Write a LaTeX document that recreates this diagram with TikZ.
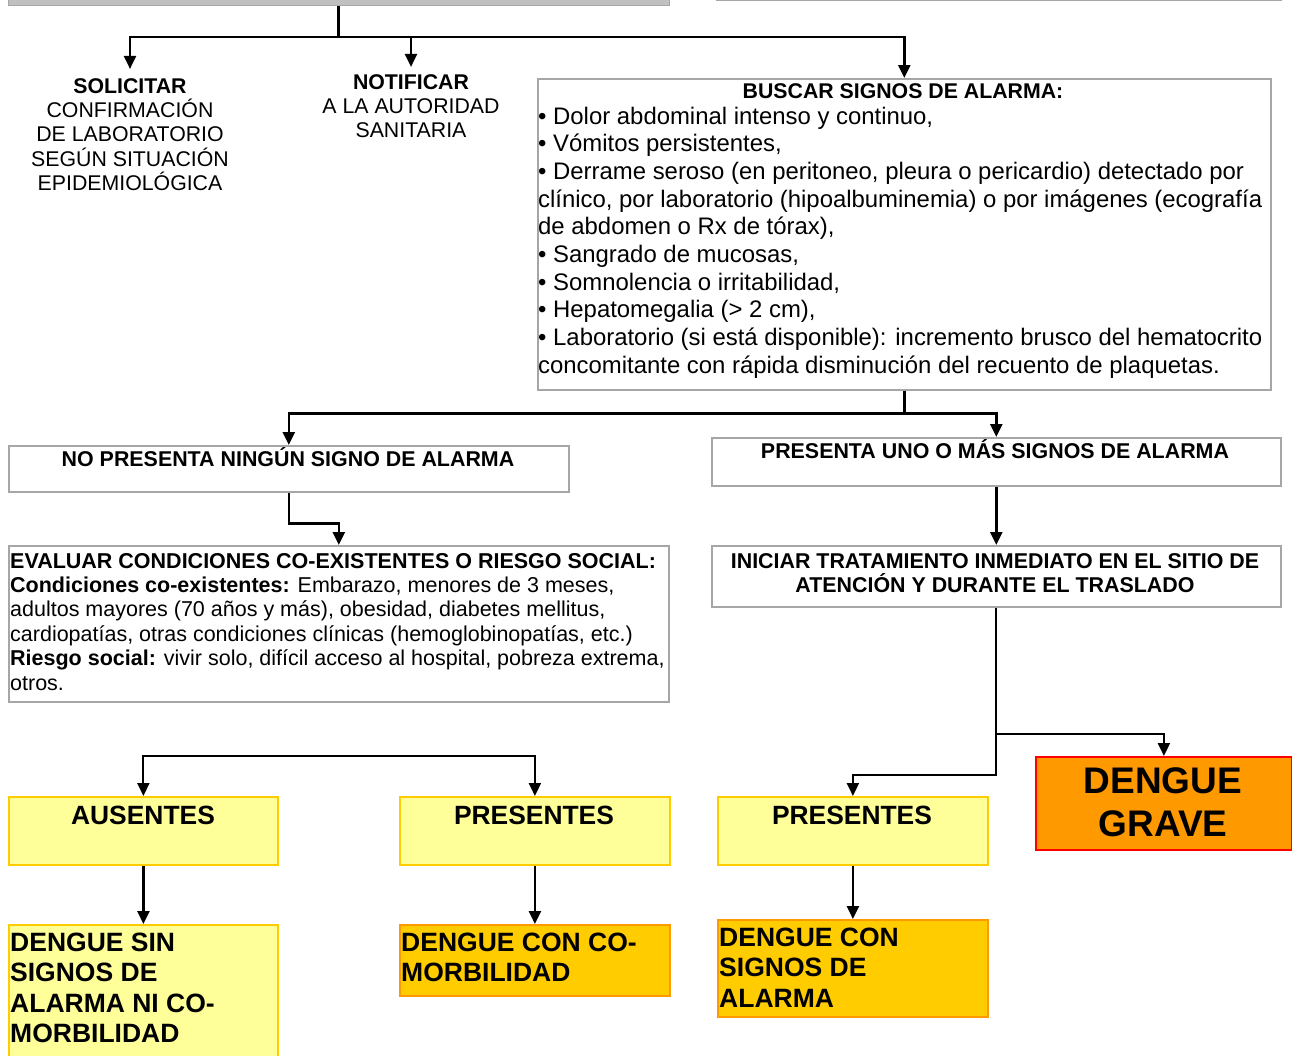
\documentclass[tikz,border=0pt]{standalone}
\usepackage{fontspec}
\setmainfont{Liberation Sans}
\usetikzlibrary{arrows.meta}
\definecolor{boxgray}{HTML}{A6A6A6}
\definecolor{barfill}{HTML}{C0C0C0}
\definecolor{yfill}{HTML}{FFFF99}
\definecolor{yline}{HTML}{FFCC00}
\definecolor{ofill}{HTML}{FFCC00}
\definecolor{oline}{HTML}{FF9900}
\definecolor{gfill}{HTML}{FF9900}
\definecolor{gline}{HTML}{FF0000}
\newcommand{\fs}[2]{\fontsize{#1}{#2}\selectfont}
\begin{document}
\begin{tikzpicture}[x=1pt,y=-1pt,
  gbox/.style={draw=boxgray, line width=1.6pt, fill=white, inner sep=0pt, anchor=north west},
  ybox/.style={draw=yline, line width=1.8pt, fill=yfill, inner sep=0pt, anchor=north west},
  obox/.style={draw=oline, line width=1.8pt, fill=ofill, inner sep=0pt, anchor=north west},
  rbox/.style={draw=gline, line width=1.8pt, fill=gfill, inner sep=0pt, anchor=north west},
  txt/.style={inner sep=0pt, anchor=base, align=center},
  ltxt/.style={inner sep=0pt, anchor=base west, align=left},
  conn/.style={line width=2.4pt},
  arr/.style={line width=2.4pt, -{Triangle[length=13pt,width=12pt]}},
  tarr/.style={line width=2pt, -{Triangle[length=13pt,width=12pt]}}]
\useasboundingbox (0,0) rectangle (1292,1055);
% partial top boxes
\node[fill=barfill, draw=boxgray, line width=1pt, minimum width=661, minimum height=20, inner sep=0pt, anchor=south west] (topL) at (8,6) {};
\node[draw=boxgray, line width=1.4pt, minimum width=565, minimum height=20, inner sep=0pt, anchor=south west] (topR) at (716,1) {};
% boxes
\node[gbox, minimum width=733, minimum height=311] (buscar) at (537,78) {};
\node[gbox, minimum width=560, minimum height=46] (nopres) at (8,445) {};
\node[gbox, minimum width=569, minimum height=48] (pres) at (711,437) {};
\node[gbox, minimum width=660, minimum height=156] (evaluar) at (8,545) {};
\node[gbox, minimum width=569, minimum height=61] (iniciar) at (711,545) {};
\node[ybox, minimum width=269, minimum height=68] (ausentes) at (8,796) {};
\node[ybox, minimum width=270, minimum height=68] (presA) at (399,796) {};
\node[ybox, minimum width=270, minimum height=68] (presB) at (717,796) {};
\node[ybox, minimum width=269, minimum height=150] (sinsig) at (8,924) {};
\node[obox, minimum width=270, minimum height=71] (concomorb) at (399,924) {};
\node[obox, minimum width=270, minimum height=97] (consig) at (717,919) {};
\node[rbox, minimum width=256, minimum height=93] (grave) at (1035,756) {};
% texts (base anchor = baseline of the last line)
\node[txt, font=\fs{21.3}{24.4}] (solicitar) at (130,190.6) {\bfseries SOLICITAR\\CONFIRMACIÓN\\DE LABORATORIO\\SEGÚN SITUACIÓN\\EPIDEMIOLÓGICA};
\node[txt, font=\fs{21.3}{24.4}] (notificar) at (411,137.8) {\bfseries NOTIFICAR\\A LA AUTORIDAD\\SANITARIA};
\node[txt, font=\bfseries\fs{21.3}{24.4}] (buscarT) at (903,98) {BUSCAR SIGNOS DE ALARMA:};
\node[ltxt, font=\fs{23.9}{27.7}] (buscarB) at (538,373.3) {• Dolor abdominal intenso y continuo,\\
• Vómitos persistentes,\\
• Derrame seroso (en peritoneo, pleura o pericardio) detectado por\\
clínico, por laboratorio (hipoalbuminemia) o por imágenes (ecografía\\
de abdomen o Rx de tórax),\\
• Sangrado de mucosas,\\
• Somnolencia o irritabilidad,\\
• Hepatomegalia (> 2 cm),\\
• Laboratorio (si está disponible): incremento brusco del hematocrito\\
concomitante con rápida disminución del recuento de plaquetas.};
\node[txt, font=\bfseries\fs{21.4}{24.4}] (nopresT) at (288,466) {NO PRESENTA NINGÚN SIGNO DE ALARMA};
\node[txt, font=\bfseries\fs{21.4}{24.4}] (presT) at (995,458) {PRESENTA UNO O MÁS SIGNOS DE ALARMA};
\node[ltxt, font=\fs{21.5}{24.4}] (evaluarT) at (10,690) {\textbf{EVALUAR CONDICIONES CO-EXISTENTES O RIESGO SOCIAL:}\\
\textbf{Condiciones co-existentes:} Embarazo, menores de 3 meses,\\
adultos mayores (70 años y más), obesidad, diabetes mellitus,\\
cardiopatías, otras condiciones clínicas (hemoglobinopatías, etc.)\\
\textbf{Riesgo social:} vivir solo, difícil acceso al hospital, pobreza extrema,\\
otros.};
\node[txt, font=\bfseries\fs{21.4}{24.4}] (iniciarT) at (995,592.4) {INICIAR TRATAMIENTO INMEDIATO EN EL SITIO DE\\ATENCIÓN Y DURANTE EL TRASLADO};
\node[txt, font=\bfseries\fs{26.4}{30.5}] (ausentesT) at (143,824) {AUSENTES};
\node[txt, font=\bfseries\fs{26.4}{30.5}] (presAT) at (534,824) {PRESENTES};
\node[txt, font=\bfseries\fs{26.4}{30.5}] (presBT) at (852,824) {PRESENTES};
\node[ltxt, font=\bfseries\fs{26.5}{30.5}] (sinsigT) at (10,1042.5) {DENGUE SIN\\SIGNOS DE\\ALARMA NI CO-\\MORBILIDAD};
\node[ltxt, font=\bfseries\fs{26.5}{30.5}] (concomorbT) at (401,981.5) {DENGUE CON CO-\\MORBILIDAD};
\node[ltxt, font=\bfseries\fs{26.5}{30.5}] (consigT) at (719,1007) {DENGUE CON\\SIGNOS DE\\ALARMA};
\node[txt, font=\bfseries\fs{37}{43}] (graveT) at (1163,836) {DENGUE\\GRAVE};
% connectors
\coordinate (j1) at (338.5,37);
\draw[conn] (topL.south -| j1) -- (j1);
\draw[arr] (j1) -| ([yshift=9pt]solicitar.north);
\draw[arr] (j1) -| ([yshift=7pt]notificar.north);
\draw[arr] (j1) -| (buscar.north);
\coordinate (j2) at ([yshift=-23pt]buscar.south);
\draw[conn] (buscar.south) -- (j2);
\draw[arr] (j2) -| (nopres.north);
\draw[arr] (j2) -| (pres.north);
\draw[arr] (nopres.south) -- ++(0,31) -| (evaluar.north);
\draw[arr] (pres.south) -- (iniciar.north);
\coordinate (j3) at ([yshift=-126pt]iniciar.south);
\draw[tarr] (iniciar.south) -- ++(0,167) -| (presB.north);
\draw[tarr] (j3) -| (grave.north);
\coordinate (j4) at (338.5,756);
\draw[tarr] (j4) -| (ausentes.north);
\draw[tarr] (j4) -| (presA.north);
\draw[arr] (ausentes.south) -- (sinsig.north);
\draw[arr] (presA.south) -- (concomorb.north);
\draw[arr] (presB.south) -- (consig.north);
\end{tikzpicture}
\end{document}
